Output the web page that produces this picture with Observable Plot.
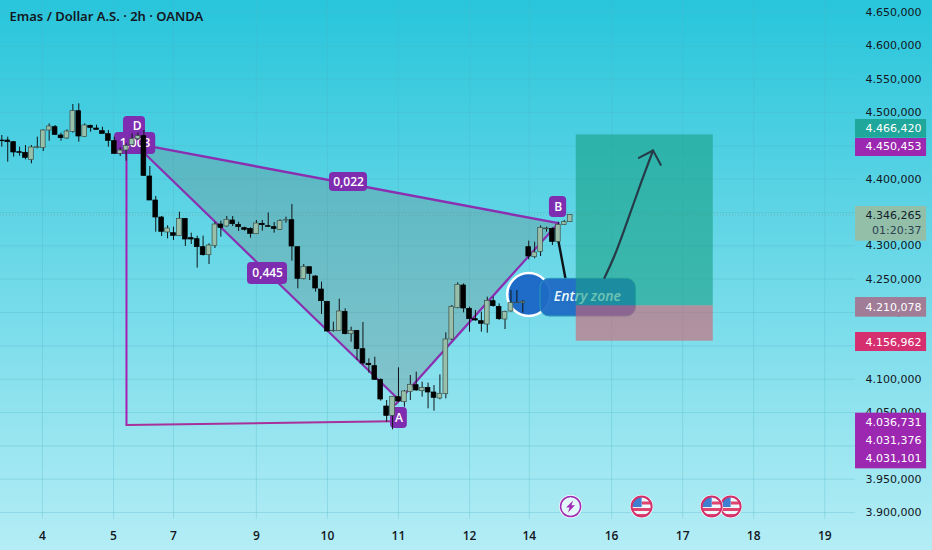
<!DOCTYPE html>
<html><head><meta charset="utf-8">
<script src="https://cdn.jsdelivr.net/npm/d3@7"></script>
<script src="https://cdn.jsdelivr.net/npm/@observablehq/plot@0.6"></script>
<style>html,body{margin:0;padding:0;overflow:hidden;background:#7fdcea}svg{display:block}</style>
</head><body><div id="c"></div>
<script>
const opens=[4458,4458,4455.5,4440.5,4439.5,4429,4447,4447,4473,4478,4465.5,4461,4471,4502,4463.5,4480,4476,4472,4467.5,4457,4438,4443,4451.5,4460,4464.5,4404,4368,4342.5,4320,4319,4314.5,4340.5,4311.5,4310,4298,4286,4300,4332,4329,4338,4331.5,4326.5,4325.5,4317.5,4333,4329.5,4328,4324,4338,4338.5,
4298,4250,4268,4254,4234.5,4216,4172,4172,4201,4167.5,4172.5,4145,4123,4119.5,4099,4059,4045,4073,4065.5,4081,4091,4082,4087,4080,4071,4077.5,4159.5,4206.5,4240.5,4205.5,4190,4187,4182,4217,4208.5,4189.5,4201.5,4214,4214,4298,4283,4291,4325,4325.5,4306,4331.5,4335.5];
const highs=[4465.5,4463,4456.5,4448,4450.5,4450.5,4463,4474,4483,4480.5,4469,4474,4512,4513,4483,4481,4481,4478,4473,4463,4447,4453,4468,4469,4473,4419,4374,4344,4330,4328,4350.5,4340.5,4319,4314.5,4314.5,4303,4335.5,4337,4344,4344,4335.5,4328,4327,4338,4338,4349.5,4335,4339,4343,4362,
4298,4272,4268,4255.5,4245.5,4216,4185.5,4220,4205.5,4178,4173,4185,4130.5,4133,4100.5,4068,4073.5,4117,4083,4105.5,4110.5,4095.5,4094,4090.5,4106.5,4169.5,4210.5,4244.5,4243,4208,4203,4200.5,4223,4223,4213,4202,4233,4233,4218,4307,4305.5,4330,4328,4327,4335.5,4338,4347];
const lows=[4448,4425.5,4433,4434.5,4429,4423,4445.5,4441.5,4457,4465.5,4457,4460,4469,4455.5,4463,4470.5,4474,4468,4448,4437,4434,4427,4450.5,4458,4404,4368,4320.5,4314,4310.5,4308,4314,4299,4302,4266.5,4284.5,4272,4296,4313,4328,4329,4321.5,4322,4311.5,4317,4322,4328,4319,4323,4334,4277,
4235.5,4249,4248,4230.5,4197,4170.5,4170.5,4171.5,4166.5,4155.5,4128,4120.5,4109,4098,4067,4035.5,4024,4065.5,4058,4068,4082,4073,4055.5,4052,4069,4070.5,4158,4205.5,4199.5,4170.5,4187,4170.5,4169,4208,4188,4174.5,4200.5,4213.5,4199,4279,4280.5,4284,4320.5,4300.5,4304,4331,4335];
const closes=[4457,4455.5,4440,4439.5,4432,4447.5,4448,4473,4479,4466.5,4461.5,4471.5,4502,4464,4480.5,4477,4474,4468,4457.5,4438,4443,4450,4460,4464.5,4405,4368,4342.5,4321,4326,4315,4340.5,4309.5,4309.5,4298,4286,4300.5,4332,4327,4339,4332.5,4328,4324,4318,4333.5,4331,4328.5,4325.5,4337,4338.5,4299,
4250.5,4268.5,4258,4236,4217,4171.5,4172.5,4201.5,4167.5,4172.5,4145,4123.5,4121,4099,4069.5,4045,4073.5,4066.5,4081.5,4091.5,4083,4087,4080,4072,4078,4159.5,4208.5,4241.5,4206,4190,4188,4183,4217.5,4209.5,4190,4201,4214,4214.5,4216,4284,4290,4327,4326,4306,4331.5,4335.5,4346.265];
const bars=opens.map((o,i)=>({i,o,h:highs[i],l:lows[i],c:closes[i],up:closes[i]>=o}));

const dayLabels=["4","5","7","9","10","11","12","14","16","17","18","19"];
const dayBars=[6.87,18.87,29,43,55,67,79,89.1,103,115,127,139];
const gridPrices=[4650,4600,4550,4500,4450,4400,4350,4300,4250,4200,4150,4100,4050,4000,3950,3900];
const priceTicks=[4650,4600,4550,4500,4400,4300,4250,4200,4100,4050,3950,3900];

const fmt=v=>d3.format(",.3f")(v).replace(/[.,]/g,m=>m==="."?",":".");

// harmonic pattern
const shade=[{i:23.95,p:4451},{i:94,p:4334},{i:66.5,p:4062},{i:66.5,p:4074},{i:23.95,p:4440}];
const legTop=[{i:23.95,p:4451},{i:94,p:4334}];
const legDown=[{i:23.95,p:4440},{i:66.5,p:4074}];
const legUp=[{i:66.5,p:4062},{i:94,p:4334}];
const legLeft=[{i:21.06,p:4450.453},{i:21.06,p:4031.101}];
const legBase=[{i:21.06,p:4031.101},{i:66,p:4036.731}];
const badges=[
 {t:"D",x1:20.56,x2:24.27,y1:4465,y2:4494,i:22.87,p:4479},
 {t:"1,003",x1:19.04,x2:26,y1:4437,y2:4470,i:22.5,p:4453.5},
 {t:"0,445",x1:41.5,x2:48.26,y1:4242,y2:4275,i:44.9,p:4258.5},
 {t:"0,022",x1:55.35,x2:61.77,y1:4381.5,y2:4410,i:58.56,p:4396},
 {t:"B",x1:92.5,x2:95.4,y1:4342.5,y2:4374,i:94,p:4358},
 {t:"A",x1:65.66,x2:68.5,y1:4026,y2:4057.5,i:67.1,p:4042}];

// position box
const boxProfit=[{x1:97.03,x2:120.17,y1:4210.078,y2:4466.42}];
const boxLoss=[{x1:97.03,x2:120.17,y1:4156.962,y2:4210.078}];
const pathStub=[{i:94,p:4308},{i:94.7,p:4275},{i:95.2,p:4251}];
const pathArrow=[{i:101.8,p:4252},{i:103.5,p:4285.5},{i:105.6,p:4335.5},{i:107.9,p:4393},{i:110,p:4443}];
const arrowHead=[{i:107.6,p:4432},{i:110,p:4443},{i:111.3,p:4421.5}];
const pill=[{x1:91,x2:107.1,y1:4194,y2:4250.5}];
const spot=[{i:89,p:4227}];
const entry=[{t:"Entry zone",i:98.9,p:4224}];

// price tags on the scale
const tags=[
 {f:"#1fa79b",y1:4461.5,y2:4489.5},{f:"#9c27b0",y1:4434,y2:4461},{f:"#93bfa9",y1:4307,y2:4359},
 {f:"#a07c96",y1:4193,y2:4222.5},{f:"#d62f6f",y1:4141.5,y2:4170},{f:"#9c27b0",y1:3965.5,y2:4049}];
const tagTexts=[
 {t:fmt(4466.42),p:4475.5,c:"#fff"},{t:fmt(4450.453),p:4449,c:"#fff"},{t:fmt(4346.265),p:4345,c:"#12202a"},
 {t:"01:20:37",p:4323,c:"#2c4152"},{t:fmt(4210.078),p:4208,c:"#fff"},{t:fmt(4156.962),p:4155.5,c:"#fff"},
 {t:fmt(4036.731),p:4035.5,c:"#fff"},{t:fmt(4031.376),p:4008,c:"#fff"},{t:fmt(4031.101),p:3981,c:"#fff"}];

// calendar events
const svgUri=s=>"data:image/svg+xml;utf8,"+encodeURIComponent(s);
const flag=svgUri(`<svg xmlns="http://www.w3.org/2000/svg" viewBox="0 0 24 24"><circle cx="12" cy="12" r="11.5" fill="#fff"/><clipPath id="k"><circle cx="12" cy="12" r="9.5"/></clipPath><g clip-path="url(#k)"><rect width="24" height="24" fill="#eef6fa"/><rect x="12" y="7" width="12" height="3" fill="#e0456f"/><rect y="13.5" width="24" height="3" fill="#e0456f"/><rect y="19.5" width="24" height="5" fill="#e0456f"/><rect width="12" height="12.5" fill="#3d7fd0"/></g><circle cx="12" cy="12" r="10" fill="none" stroke="#d1306a" stroke-width="2"/></svg>`);
const bolt=svgUri(`<svg xmlns="http://www.w3.org/2000/svg" viewBox="0 0 24 24"><circle cx="12" cy="12" r="11.5" fill="#fff"/><circle cx="12" cy="12" r="10" fill="#e3f8fb" stroke="#a22db5" stroke-width="1.6"/><path d="M14.5 6 7.6 13h3.4l-1.6 5 7-7.2h-3.5z" fill="#a22db5"/></svg>`);
const events=[{i:96.07,p:3909,s:bolt},{i:108.07,p:3909,s:flag},{i:123.1,p:3909,s:flag},{i:119.9,p:3909,s:flag}];

const title=["Emas / Dollar A.S. · 2h · OANDA"];

const chart=Plot.plot({
  width:932,height:550,marginTop:0,marginLeft:0,marginRight:0,marginBottom:26,
  style:{background:"linear-gradient(#28c5db,#b4edf5)",fontFamily:"DejaVu Sans",overflow:"hidden"},
  x:{domain:[-0.22,157.2],range:[0,932]},
  y:{domain:[3900,4650],range:[512,12]},
  marks:[
    Plot.ruleY(gridPrices,{x1:-0.22,x2:144.2,stroke:"#4fb4c8",strokeOpacity:.3}),
    Plot.ruleX(dayBars,{y1:3890,y2:4670,stroke:"#4fb4c8",strokeOpacity:.3}),
    Plot.ruleY([4346.265],{x1:-0.22,x2:144.2,stroke:"#7a9a90",strokeOpacity:.6,strokeDasharray:"1 2"}),
    Plot.axisY(priceTicks,{anchor:"right",tickSize:0,tickPadding:-11,textAnchor:"end",tickFormat:fmt,fontSize:11,fill:"#131722",label:null}),
    Plot.axisX(dayBars,{anchor:"bottom",tickSize:0,tickPadding:0,tickFormat:(d)=>dayLabels[dayBars.indexOf(d)],fontSize:12,fontWeight:600,fontFamily:"Open Sans",fill:"#131722",label:null,lineAnchor:"middle",dy:12}),
    Plot.text(title,{frameAnchor:"top-left",dx:9,dy:11,textAnchor:"start",fontSize:13,fontWeight:600,fontFamily:"Noto Sans",fill:"#131722"}),

    Plot.line(shade,{x:"i",y:"p",fill:"rgba(110,130,125,.3)",stroke:"none"}),
    Plot.line(legLeft,{x:"i",y:"p",stroke:"#a61fb0",strokeWidth:2}),
    Plot.line(legBase,{x:"i",y:"p",stroke:"#a8309a",strokeWidth:2}),
    Plot.line(legTop,{x:"i",y:"p",stroke:"#8a2fb0",strokeWidth:2.4}),
    Plot.line(legDown,{x:"i",y:"p",stroke:"#8a2fb0",strokeWidth:2.2}),
    Plot.line(legUp,{x:"i",y:"p",stroke:"#8a2fb0",strokeWidth:2.2}),
    Plot.rect(badges,{x1:"x1",x2:"x2",y1:"y1",y2:"y2",fill:"#7e2db0",rx:4}),
    Plot.text(badges,{x:"i",y:"p",text:"t",fill:"#fff",fontSize:12,fontWeight:600,fontFamily:"Open Sans"}),

    Plot.line(pathStub,{x:"i",y:"p",stroke:"#0c1418",strokeWidth:2.4,curve:"catmull-rom"}),
    Plot.dot(spot,{x:"i",y:"p",r:21.5,fill:"#1e6cc8",stroke:"#fff",strokeWidth:2.5}),
    Plot.rect(pill,{x1:"x1",x2:"x2",y1:"y1",y2:"y2",rx:9,fill:"#1e6bc5",fillOpacity:.95,stroke:"#2a9ab8",strokeWidth:1}),
    Plot.text(entry,{x:"i",y:"p",text:"t",fill:"#e9f7fb",fontSize:14,fontStyle:"italic",fontWeight:600,fontFamily:"Open Sans"}),

    Plot.ruleX(bars,{x:"i",y1:"l",y2:"h",stroke:"#101518",strokeWidth:1}),
    Plot.rect(bars,{x1:d=>d.i-.4,x2:d=>d.i+.4,y1:"o",y2:"c",fill:d=>d.up?"#98bfa9":"#000",stroke:d=>d.up?"#3c4f48":"#000",strokeWidth:.7}),

    Plot.rect(boxProfit,{x1:"x1",x2:"x2",y1:"y1",y2:"y2",fill:"rgba(25,160,133,.6)"}),
    Plot.rect(boxLoss,{x1:"x1",x2:"x2",y1:"y1",y2:"y2",fill:"rgba(210,95,110,.6)"}),
    Plot.line(pathArrow,{x:"i",y:"p",stroke:"#263a48",strokeWidth:2.2,curve:"catmull-rom"}),
    Plot.line(arrowHead,{x:"i",y:"p",stroke:"#263a48",strokeWidth:2}),

    Plot.image(events,{x:"i",y:"p",src:"s",width:24,height:24}),

    Plot.rect(tags,{x1:144.2,x2:156.2,y1:"y1",y2:"y2",fill:"f"}),
    Plot.text(tagTexts,{frameAnchor:"right",dx:-11,y:"p",text:"t",fill:"c",textAnchor:"end",fontSize:11})
  ]
});
document.getElementById("c").appendChild(chart);
</script></body></html>
